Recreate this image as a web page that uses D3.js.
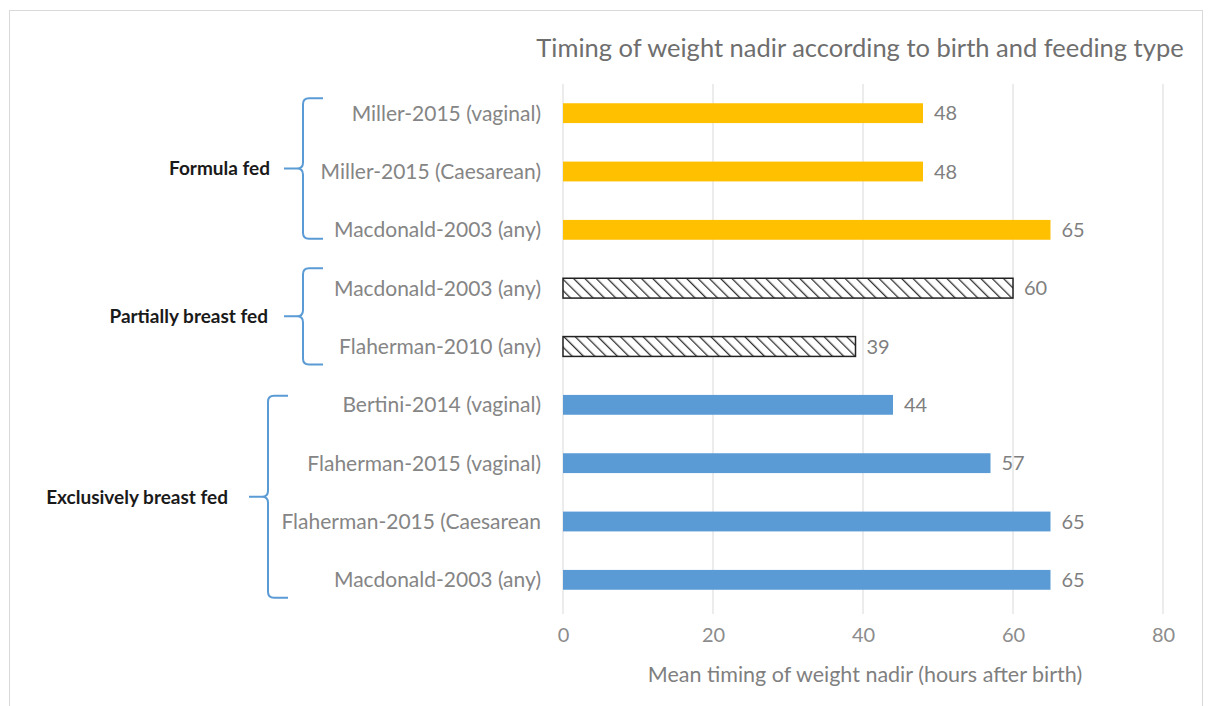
<!DOCTYPE html>
<html>
<head>
<meta charset="utf-8">
<script src="https://cdn.jsdelivr.net/npm/d3@7"></script>
<style>
  body { margin: 0; background: #fff; }
  text { font-family: Lato, "Open Sans", sans-serif; }
</style>
</head>
<body>
<div class="chart"></div>
<script>
const studies = ["Miller-2015 (vaginal)", "Miller-2015 (Caesarean)", "Macdonald-2003 (any)",
  "Macdonald-2003 (any) ", "Flaherman-2010 (any)",
  "Bertini-2014 (vaginal)", "Flaherman-2015 (vaginal)", "Flaherman-2015 (Caesarean", "Macdonald-2003 (any)  "];
const hours = [48, 48, 65, 60, 39, 44, 57, 65, 65];
const feeding = ["formula", "formula", "formula", "partial", "partial", "exclusive", "exclusive", "exclusive", "exclusive"];
const groupKeys = ["formula", "partial", "exclusive"];
const groupNames = ["Formula fed", "Partially breast fed", "Exclusively breast fed"];
const xTicks = [0, 20, 40, 60, 80];

const W = 1208, H = 706;
const data = studies.map((s, i) => ({study: s, value: hours[i], group: feeding[i]}));

const svg = d3.select('.chart').append('svg')
  .attr('width', W).attr('height', H);

// hatch pattern for partially breast fed
const defs = svg.append('defs');
const pat = defs.append('pattern')
  .attr('id', 'hatch')
  .attr('patternUnits', 'userSpaceOnUse')
  .attr('width', 8).attr('height', 8)
  .attr('patternTransform', 'rotate(-45)');
pat.append('rect').attr('width', 8).attr('height', 8).attr('fill', '#fff');
pat.append('line').attr('x1', 0).attr('y1', 0).attr('x2', 0).attr('y2', 8)
  .attr('stroke', '#333').attr('stroke-width', 2.6);

// chart border
svg.append('rect')
  .attr('x', 9.5).attr('y', 10.5).attr('width', 1193).attr('height', 700)
  .attr('fill', 'none').attr('stroke', '#d9d9d9');

const xScale = d3.scaleLinear().domain([0, 80]).range([563, 1163]);
const yScale = d3.scaleBand().domain(studies).range([84, 609]).paddingInner(0.66).paddingOuter(0.33);

const color = {formula: '#FFC000', exclusive: '#5B9BD5', partial: 'url(#hatch)'};

// gridlines
svg.append('g')
  .selectAll('line').data(xTicks).enter().append('line')
  .attr('x1', d => xScale(d)).attr('x2', d => xScale(d))
  .attr('y1', 84).attr('y2', 614)
  .attr('stroke', '#d9d9d9').attr('stroke-width', 1);

const xAxis = d3.axisBottom(xScale).tickValues(xTicks).tickSize(0).tickPadding(14);
const gx = svg.append('g').attr('transform', 'translate(0,614)').call(xAxis);
gx.select('.domain').remove();
gx.selectAll('text').attr('font-size', 20).attr('fill', '#8c8c8c')
  .style('font-family', 'Lato, sans-serif');

// bars
svg.selectAll('.bar').data(data).enter().append('rect')
  .attr('class', 'bar')
  .attr('x', xScale(0))
  .attr('y', d => yScale(d.study))
  .attr('width', d => xScale(d.value) - xScale(0))
  .attr('height', yScale.bandwidth())
  .attr('fill', d => color[d.group])
  .attr('stroke', d => d.group === 'partial' ? '#222' : 'none')
  .attr('stroke-width', 1.5);

// value labels
svg.selectAll('.val').data(data).enter().append('text')
  .attr('x', d => xScale(d.value) + 11)
  .attr('y', d => yScale(d.study) + yScale.bandwidth() / 2)
  .attr('dy', '0.36em')
  .attr('font-size', 20).attr('fill', '#7f7f7f')
  .text(d => d.value);

// category labels
svg.selectAll('.cat').data(data).enter().append('text')
  .attr('x', 541)
  .attr('y', d => yScale(d.study) + yScale.bandwidth() / 2)
  .attr('dy', '0.36em')
  .attr('text-anchor', 'end')
  .attr('font-size', 21).attr('fill', '#858585')
  .text(d => d.study.trim());

// group brackets (hand-placed in the original, so the padding differs a bit)
const bracketX = {formula: 303, partial: 303, exclusive: 268};
const padTop = {formula: 15, partial: 20, exclusive: 9};
const padBottom = {formula: 9, partial: 18, exclusive: 18};
const labelGap = {formula: 33, partial: 35, exclusive: 40};
groupKeys.forEach((g, i) => {
  const rows = data.filter(d => d.group === g);
  const y0 = yScale(rows[0].study) + yScale.bandwidth() / 2 - padTop[g];
  const y1 = yScale(rows[rows.length - 1].study) + yScale.bandwidth() / 2 + padBottom[g];
  const ym = (y0 + y1) / 2;
  const bx = bracketX[g], r = 6, arm = 20;
  const p = `M${bx + arm},${y0} L${bx + r},${y0} Q${bx},${y0} ${bx},${y0 + r}` +
    ` L${bx},${ym - r} Q${bx},${ym} ${bx - r},${ym} L${bx - 19},${ym}` +
    ` M${bx - r},${ym} Q${bx},${ym} ${bx},${ym + r} L${bx},${y1 - r}` +
    ` Q${bx},${y1} ${bx + r},${y1} L${bx + arm},${y1}`;
  svg.append('path').attr('d', p).attr('fill', 'none')
    .attr('stroke', '#5B9BD5').attr('stroke-width', 2);
  svg.append('text')
    .attr('x', bx - labelGap[g]).attr('y', ym).attr('dy', '0.36em')
    .attr('text-anchor', 'end')
    .attr('font-size', 19).attr('font-weight', 'bold').attr('fill', '#1a1a1a')
    .text(groupNames[i]);
});

// title
svg.append('text')
  .attr('x', 860).attr('y', 57)
  .attr('text-anchor', 'middle')
  .attr('font-size', 25.5).attr('fill', '#6e6e6e')
  .text('Timing of weight nadir according to birth and feeding type');

// axis title
svg.append('text')
  .attr('x', 865).attr('y', 682)
  .attr('text-anchor', 'middle')
  .attr('font-size', 21.5).attr('fill', '#7f7f7f')
  .text('Mean timing of weight nadir (hours after birth)');
</script>
</body>
</html>
